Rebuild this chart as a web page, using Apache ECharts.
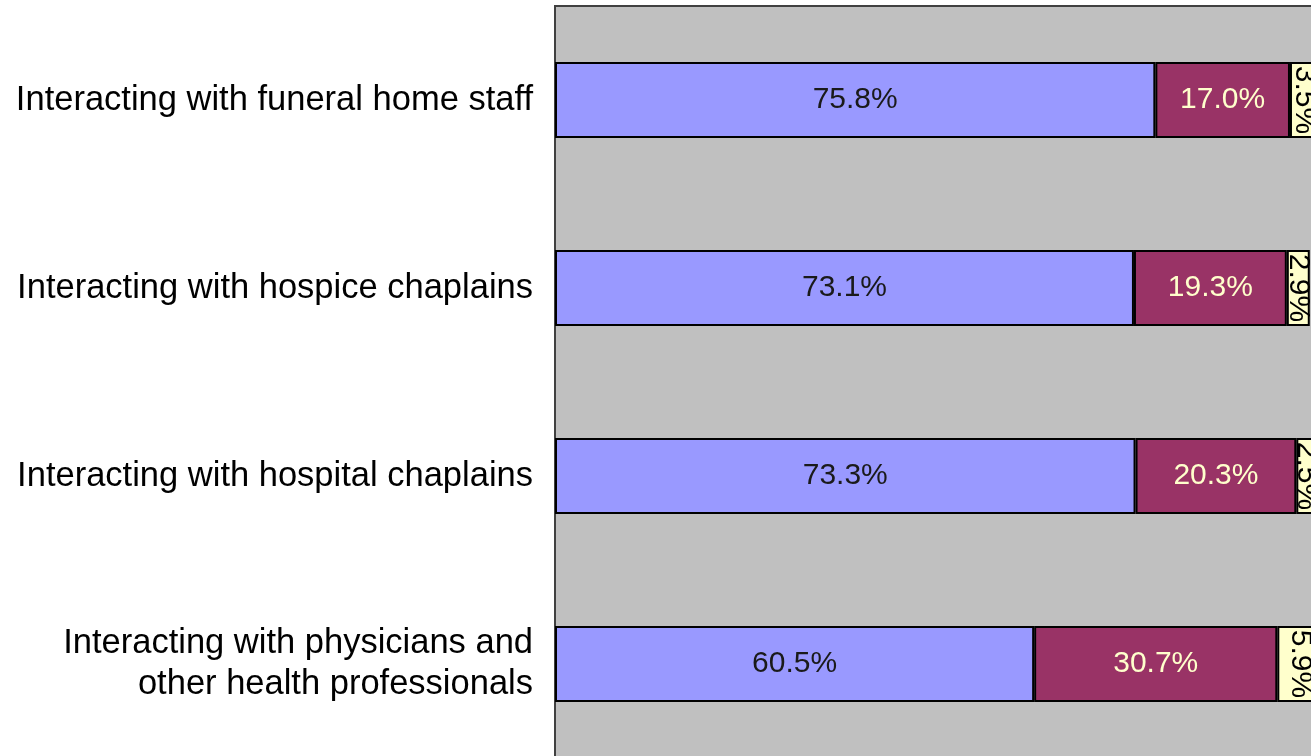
<!DOCTYPE html>
<html>
<head>
<meta charset="utf-8">
<script src="https://cdn.jsdelivr.net/npm/echarts@6/dist/echarts.min.js"></script>
<style>
  html, body { margin: 0; padding: 0; background: #fff; overflow: hidden; }
  #chart { width: 1360px; height: 760px; }
</style>
</head>
<body>
<div id="chart"></div>
<script>
// categories, top to bottom
var categories = [
  'Interacting with funeral home staff',
  'Interacting with hospice chaplains',
  'Interacting with hospital chaplains',
  'Interacting with physicians and\nother health professionals'
];
var seg1 = [75.8, 73.1, 73.3, 60.5];
var seg2 = [17.0, 19.3, 20.3, 30.7];
var seg3 = [3.5, 2.9, 2.5, 5.9];

var fontFam = '"Liberation Sans", Arial, sans-serif';

function pct(p) { return p.value.toFixed(1) + '%'; }

// the plot runs past the right edge of the window, as in the original crop
var chart = echarts.init(document.getElementById('chart'));
chart.setOption({
  animation: false,
  grid: {
    left: 555, width: 792, top: 6, height: 752,
    show: true, backgroundColor: '#C0C0C0',
    borderColor: '#404040', borderWidth: 2
  },
  xAxis: {
    type: 'value', min: 0, max: 100,
    show: false
  },
  yAxis: {
    type: 'category', data: categories, inverse: true,
    axisLine: { show: false }, axisTick: { show: false },
    axisLabel: {
      margin: 22, color: '#000', fontSize: 34.5, lineHeight: 41,
      fontFamily: fontFam, align: 'right'
    }
  },
  series: [
    {
      type: 'bar', stack: 'total', data: seg1, barWidth: 76,
      itemStyle: { color: '#9999FF', borderColor: '#000', borderWidth: 2 },
      label: { show: true, position: 'inside', color: '#1a1a1a', fontSize: 30,
               fontFamily: fontFam, formatter: pct }
    },
    {
      type: 'bar', stack: 'total', data: seg2, barWidth: 76,
      itemStyle: { color: '#993366', borderColor: '#000', borderWidth: 2 },
      label: { show: true, position: 'inside', color: '#FFFFCC', fontSize: 30,
               fontFamily: fontFam, formatter: pct }
    },
    {
      type: 'bar', stack: 'total', data: seg3, barWidth: 76,
      itemStyle: { color: '#FFFFCC', borderColor: '#000', borderWidth: 2 },
      label: { show: true, position: 'inside', rotate: -90, color: '#000', fontSize: 30,
               fontFamily: fontFam, formatter: pct }
    }
  ]
});
</script>
</body>
</html>
